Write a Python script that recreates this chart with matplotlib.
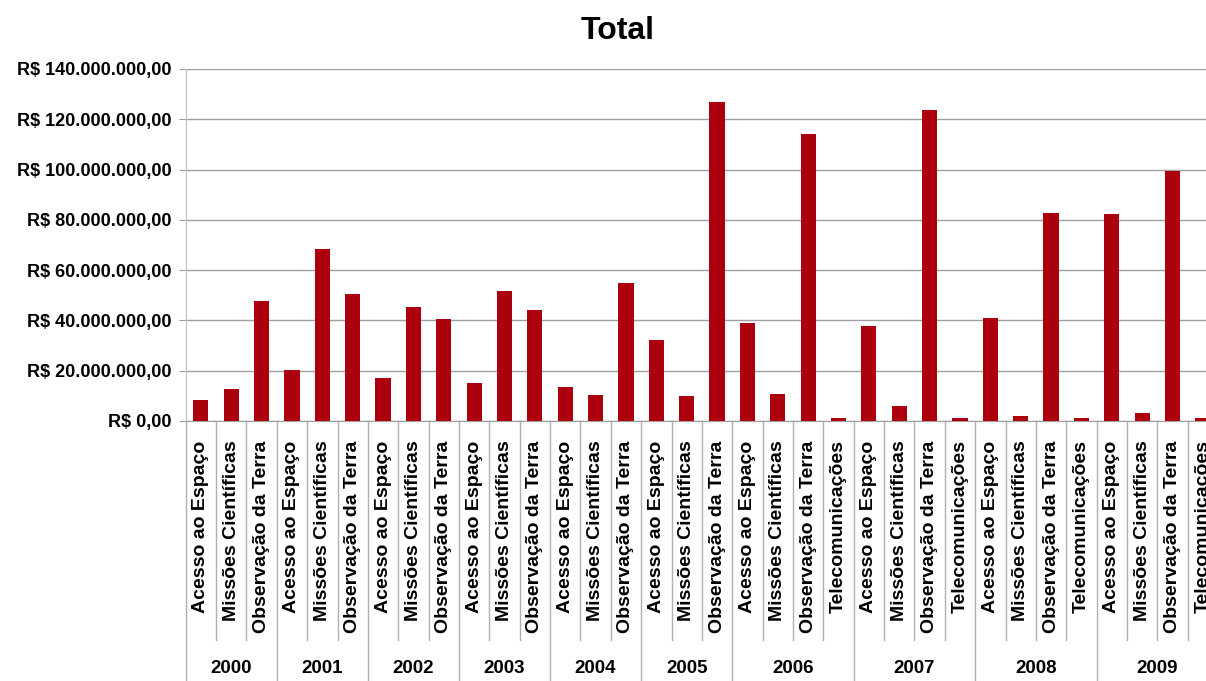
import matplotlib
matplotlib.use("Agg")
import matplotlib.pyplot as plt
from matplotlib.ticker import FuncFormatter
import matplotlib.transforms as mtransforms

plt.rcParams["font.family"] = ["Liberation Sans", "DejaVu Sans"]
plt.rcParams["font.weight"] = "bold"

# Values in millions of reais, per program and year
years = ["2000", "2001", "2002", "2003", "2004", "2005", "2006", "2007", "2008", "2009"]
acesso = [8.4, 20.3, 17.0, 15.0, 13.6, 32.3, 38.8, 37.8, 41.0, 82.3]
missoes = [12.7, 68.3, 45.5, 51.7, 10.3, 9.9, 10.7, 6.1, 2.1, 3.2]
observacao = [47.8, 50.6, 40.7, 44.1, 54.8, 127.0, 114.1, 123.8, 82.6, 99.4]
telecom = [None, None, None, None, None, None, 1.0, 1.0, 1.0, 1.0]

program_names = ["Acesso ao Espaço", "Missões Científicas",
                 "Observação da Terra", "Telecomunicações"]

# Flatten into one category axis grouped by year
labels, values, group_bounds = [], [], [0]
for i, yr in enumerate(years):
    for name, series in zip(program_names, [acesso, missoes, observacao, telecom]):
        if series[i] is None:
            continue
        labels.append(name)
        values.append(series[i] * 1e6)
    group_bounds.append(len(labels))

fig = plt.figure(figsize=(12.06, 6.81), dpi=100)
ax = fig.add_axes([0.154, 0.3818, 0.856, 0.5169])

x = list(range(len(values)))
ax.bar(x, values, width=0.5, color="#AC000F", zorder=3)

ax.set_xlim(-0.5, len(values) - 0.5)
ax.set_ylim(0, 140e6)
ax.set_yticks([i * 20e6 for i in range(8)])
ax.yaxis.set_major_formatter(
    FuncFormatter(lambda v, _: "R$ " + f"{int(round(v)):,}".replace(",", ".") + ",00"))
ax.tick_params(axis="y", length=5, color="#a0a0a0", labelsize=13, pad=5)
ax.tick_params(axis="x", length=0, labelbottom=False)
ax.grid(axis="y", color="#a0a0a0", linewidth=1, zorder=0)

for side in ["top", "right"]:
    ax.spines[side].set_visible(False)
ax.spines["left"].set_color("#c0c0c0")
ax.spines["bottom"].set_color("#a0a0a0")

trans = mtransforms.blended_transform_factory(ax.transData, ax.transAxes)

# Category labels and separators
for i, lab in enumerate(labels):
    ax.text(i, -0.055, lab, rotation=90, ha="center", va="top",
            fontsize=14, fontweight="bold", transform=trans, clip_on=False)
for b in range(len(values) + 1):
    bound = b - 0.5
    depth = -0.8 if b in group_bounds else -0.622
    ax.plot([bound, bound], [0, depth], transform=trans, color="#b0b0b0",
            linewidth=1, clip_on=False)

# Year labels under each group
for yr, start, end in zip(years, group_bounds[:-1], group_bounds[1:]):
    ax.text((start + end - 1) / 2, -0.702, yr, ha="center", va="center",
            fontsize=13.5, fontweight="bold", transform=trans, clip_on=False)

fig.text(0.512, 0.954, "Total", ha="center", va="center", fontsize=23, fontweight="bold")

fig.savefig("out.png", dpi=100)
